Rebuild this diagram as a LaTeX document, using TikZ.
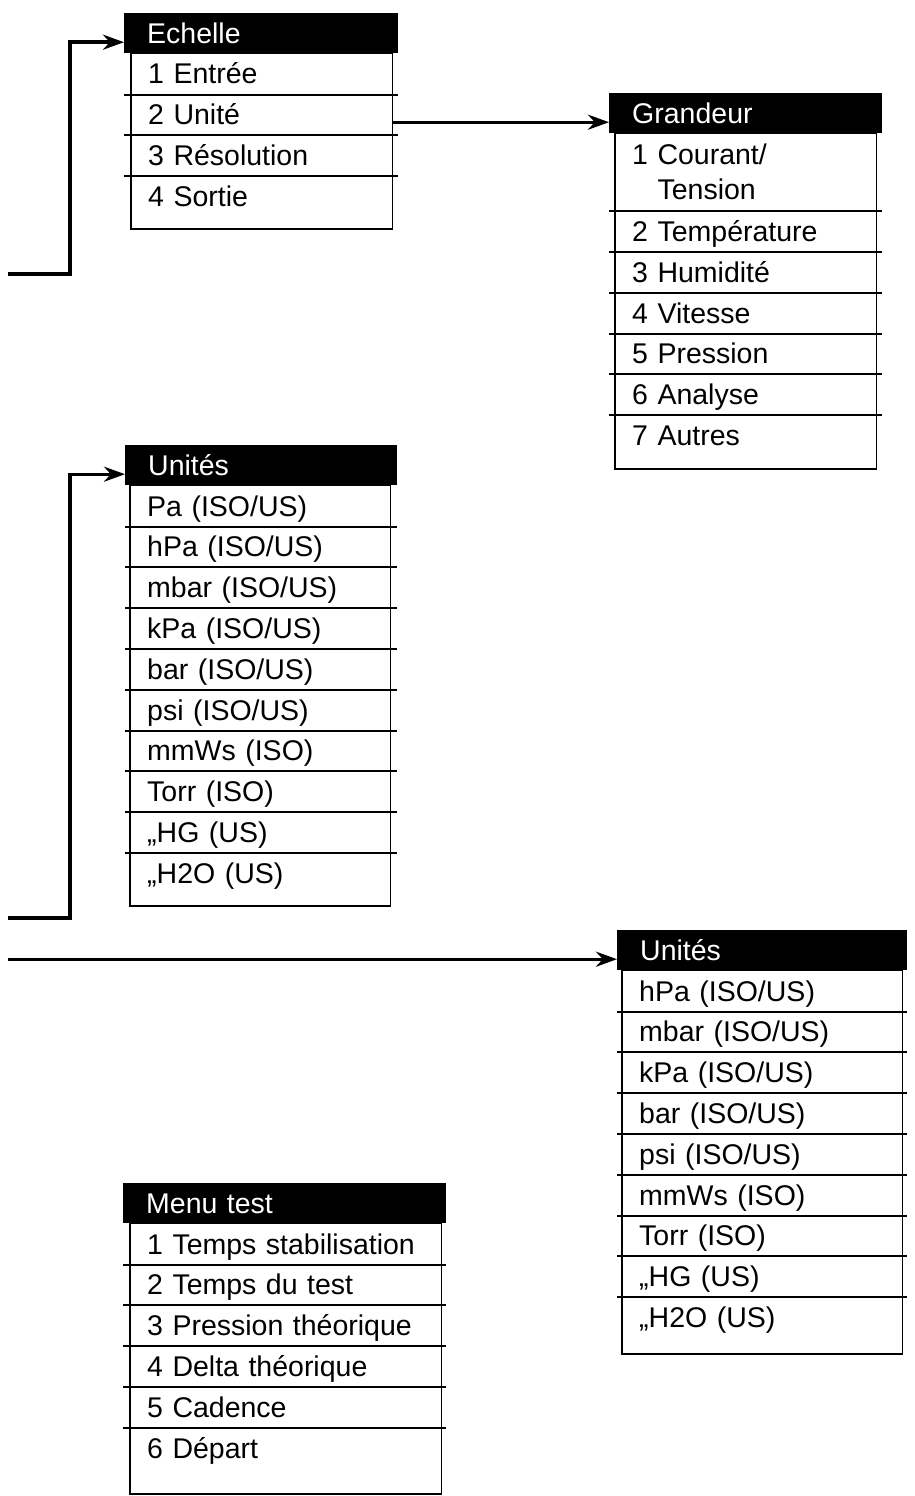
\documentclass[tikz,border=0pt]{standalone}
\usepackage{fontspec}
\setmainfont{Liberation Sans}
\usetikzlibrary{arrows.meta}

\tikzset{
  menuhead/.style={fill=black, text=white, anchor=north west, minimum height=40pt,
    inner xsep=23pt, inner ysep=0pt, text height=20pt, text depth=0pt, align=left},
  menuitem/.style={anchor=north west, minimum height=40.8pt,
    inner xsep=17pt, inner ysep=0pt, text height=20pt, text depth=0pt, align=left},
  rule/.style={line width=2pt},
  frame/.style={line width=1.8pt},
  link/.style={->, line width=3.4pt},
}

\begin{document}
\begin{tikzpicture}[x=1pt, y=-1pt, >={Stealth[length=21pt,width=15pt]},
    font=\fontsize{28.5}{35}\selectfont]
  \useasboundingbox (0,0) rectangle (915,1496);

  % Echelle
  \node[menuhead, text width=228pt] (ech) at (124,13) {Echelle};
  \foreach \txt [count=\i] in {1 Entrée, 2 Unité, 3 Résolution, 4 Sortie}
    \node[menuitem, text width=227pt] (ech\i) at ([xshift=7pt, yshift={-(\i-1)*40.8pt}]ech.south west) {\txt};
  \foreach \i in {1,2,3}
    \draw[rule] (ech.west |- ech\i.south) -- (ech.east |- ech\i.south);
  \draw[frame] (ech1.north west) rectangle ([yshift=-12pt]ech4.south east);

  % Grandeur
  \node[menuhead, text width=227pt] (gr) at (609,93) {Grandeur};
  \node[menuitem, text width=227pt, minimum height=77pt, text depth=35pt] (gr1)
    at ([xshift=6pt]gr.south west) {1 Courant/\\\hphantom{1}\ Tension};
  \foreach \txt [count=\i from 2] in {2 Température, 3 Humidité, 4 Vitesse, 5 Pression, 6 Analyse, 7 Autres}
    \node[menuitem, text width=227pt] (gr\i) at ([yshift={-(\i-2)*40.8pt}]gr1.south west) {\txt};
  \foreach \i in {1,...,6}
    \draw[rule] (gr.west |- gr\i.south) -- (gr.east |- gr\i.south);
  \draw[frame] (gr1.north west) rectangle ([yshift=-13pt]gr7.south east);

  % Unites (gauche)
  \node[menuhead, text width=226pt] (unl) at (125,445) {Unités};
  \foreach \txt [count=\i] in {{Pa (ISO/US)}, {hPa (ISO/US)}, {mbar (ISO/US)}, {kPa (ISO/US)}, {bar (ISO/US)},
      {psi (ISO/US)}, {mmWs (ISO)}, {Torr (ISO)}, {„HG (US)}, {„H2O (US)}}
    \node[menuitem, text width=226pt] (unl\i) at ([xshift=5pt, yshift={-(\i-1)*40.8pt}]unl.south west) {\txt};
  \foreach \i in {1,...,9}
    \draw[rule] (unl.west |- unl\i.south) -- (unl.east |- unl\i.south);
  \draw[frame] (unl1.north west) rectangle ([yshift=-12pt]unl10.south east);

  % Unites (droite)
  \node[menuhead, text width=244pt] (unr) at (617,930) {Unités};
  \foreach \txt [count=\i] in {{hPa (ISO/US)}, {mbar (ISO/US)}, {kPa (ISO/US)}, {bar (ISO/US)},
      {psi (ISO/US)}, {mmWs (ISO)}, {Torr (ISO)}, {„HG (US)}, {„H2O (US)}}
    \node[menuitem, text width=246pt] (unr\i) at ([xshift=5pt, yshift={-(\i-1)*40.8pt}]unr.south west) {\txt};
  \foreach \i in {1,...,8}
    \draw[rule] (unr.west |- unr\i.south) -- (unr.east |- unr\i.south);
  \draw[frame] (unr1.north west) rectangle ([yshift=-16pt]unr9.south east);

  % Menu test
  \node[menuhead, text width=277pt] (mt) at (123,1183) {Menu test};
  \foreach \txt [count=\i] in {1 Temps stabilisation, 2 Temps du test, 3 Pression théorique,
      4 Delta théorique, 5 Cadence, 6 Départ}
    \node[menuitem, text width=277pt] (mt\i) at ([xshift=7pt, yshift={-(\i-1)*40.8pt}]mt.south west) {\txt};
  \foreach \i in {1,...,5}
    \draw[rule] (mt.west |- mt\i.south) -- (mt.east |- mt\i.south);
  \draw[frame] (mt1.north west) rectangle ([yshift=-25pt]mt6.south east);

  % Fleches
  \coordinate (in1) at (8,274);
  \coordinate (k1) at (70,274);
  \draw[link] (in1) -- (k1) |- ([yshift=-9pt]ech.west);
  \coordinate (gin) at ([yshift=-9pt]gr.west);
  \draw[link] (ech2.east |- gin) -- (gin);
  \coordinate (in2) at (8,918);
  \coordinate (k2) at (70,918);
  \draw[link] (in2) -- (k2) |- ([yshift=-9pt]unl.west);
  \coordinate (uin) at ([yshift=-9pt]unr.west);
  \coordinate (in3) at (8,0 |- uin);
  \draw[link] (in3 |- uin) -- (uin);
\end{tikzpicture}
\end{document}
